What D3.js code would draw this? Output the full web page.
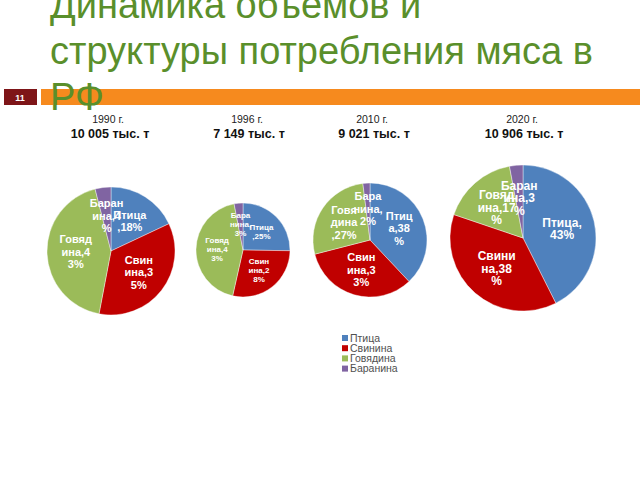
<!DOCTYPE html>
<html><head><meta charset="utf-8">
<script src="https://cdn.jsdelivr.net/npm/d3@7/dist/d3.min.js"></script>
<style>html,body{margin:0;padding:0;background:#fff;}svg{display:block;font-family:"Liberation Sans",Arial,sans-serif;}</style>
</head><body>
<svg id="c" width="640" height="480"></svg>
<script>
// ---- data ----
const titleLines = ["Динамика объемов и", "структуры потребления мяса в", "РФ"];
const slideNumber = "11";
const categories = ["Птица", "Свинина", "Говядина", "Баранина"];
const years = ["1990 г.", "1996 г.", "2010 г.", "2020 г."];
const volumes = ["10 005 тыс. т", "7 149 тыс. т", "9 021 тыс. т", "10 906 тыс. т"];
const share1990 = [18, 35, 43, 4];
const share1996 = [25, 28, 43, 3];
const share2010 = [38, 33, 27, 2];
const share2020 = [43, 38, 17, 3];
const labels1990 = [["Птица", ",18%"], ["Свин", "ина,3", "5%"], ["Говяд", "ина,4", "3%"], ["Баран", "ина,4", "%"]];
const labels1996 = [["Птица", ",25%"], ["Свин", "ина,2", "8%"], ["Говяд", "ина,4", "3%"], ["Бара", "нина,", "3%"]];
const labels2010 = [["Птиц", "а,38", "%"], ["Свин", "ина,3", "3%"], ["Говя", "дина", ",27%"], ["Бара", "нина,", "2%"]];
const labels2020 = [["Птица,", "43%"], ["Свини", "на,38", "%"], ["Говяд", "ина,17", "%"], ["Баран", "ина,3", "%"]];

// ---- layout / style ----
const colors = ["#4F81BD", "#C00000", "#9BBB59", "#8064A2"];
const pieLayout = [
  {cx: 111, cy: 251, r: 64, hx: 108, fs: 11, lh: 12.5},
  {cx: 243, cy: 250, r: 47, hx: 247, fs: 8, lh: 9},
  {cx: 370, cy: 240, r: 57, hx: 372, fs: 11, lh: 12.5},
  {cx: 523, cy: 238, r: 73, hx: 522, fs: 12, lh: 12.5}
];
const shares = [share1990, share1996, share2010, share2020];
const labelSets = [labels1990, labels1996, labels2010, labels2020];

const svg = d3.select("#c");

// orange bar + slide number
svg.append("rect").attr("x", 41).attr("y", 89).attr("width", 599).attr("height", 16).attr("fill", "#F68A1E");
svg.append("rect").attr("x", 4).attr("y", 89).attr("width", 33).attr("height", 16).attr("fill", "#7E1518");
svg.append("text").attr("x", 20).attr("y", 100.5).attr("text-anchor", "middle")
  .attr("font-size", 9).attr("font-weight", "bold").attr("fill", "#fff").text(slideNumber);

// title
svg.append("g").selectAll("text").data(titleLines).join("text")
  .attr("x", 50).attr("y", (d, i) => 18 + i * 46)
  .attr("font-size", 38).attr("fill", "#5A8F2B").text(d => d);

const pie = d3.pie().sort(null).value(d => d);

pieLayout.forEach((L, k) => {
  const g = svg.append("g");
  // headers
  g.append("text").attr("x", L.hx).attr("y", 123).attr("text-anchor", "middle")
    .attr("font-size", 10.5).attr("fill", "#222").text(years[k]);
  g.append("text").attr("x", L.hx + 2).attr("y", 137.5).attr("text-anchor", "middle")
    .attr("font-size", 12.5).attr("font-weight", "bold").attr("fill", "#111").text(volumes[k]);

  const arc = d3.arc().innerRadius(0).outerRadius(L.r);
  const labelArc = d3.arc().innerRadius(L.r * 0.55).outerRadius(L.r * 0.55);
  const pg = g.append("g").attr("transform", `translate(${L.cx},${L.cy})`);
  const arcs = pie(shares[k]);
  pg.selectAll("path").data(arcs).join("path")
    .attr("d", arc).attr("fill", (d, i) => colors[i])
    .attr("stroke", "#fff").attr("stroke-width", 0.4);
  const lab = pg.selectAll("text.lab").data(arcs).join("text").attr("class", "lab")
    .attr("text-anchor", "middle").attr("font-size", L.fs).attr("font-weight", "bold").attr("fill", "#fff")
    .attr("transform", d => `translate(${labelArc.centroid(d)})`);
  lab.each(function(d, i) {
    const lines = labelSets[k][i];
    const t = d3.select(this);
    const y0 = -((lines.length - 1) * L.lh) / 2 + L.fs * 0.35;
    lines.forEach((s, j) => t.append("tspan").attr("x", 0).attr("y", y0 + j * L.lh).text(s));
  });
});

// legend
const lg = svg.append("g").attr("transform", "translate(342,335)");
const items = lg.selectAll("g").data(categories).join("g").attr("transform", (d, i) => `translate(0,${i * 10.2})`);
items.append("rect").attr("x", 0).attr("y", 0).attr("width", 6).attr("height", 6).attr("fill", (d, i) => colors[i]);
items.append("text").attr("x", 8).attr("y", 6.5).attr("font-size", 10.5).attr("fill", "#505050").text(d => d);
</script>
</body></html>
